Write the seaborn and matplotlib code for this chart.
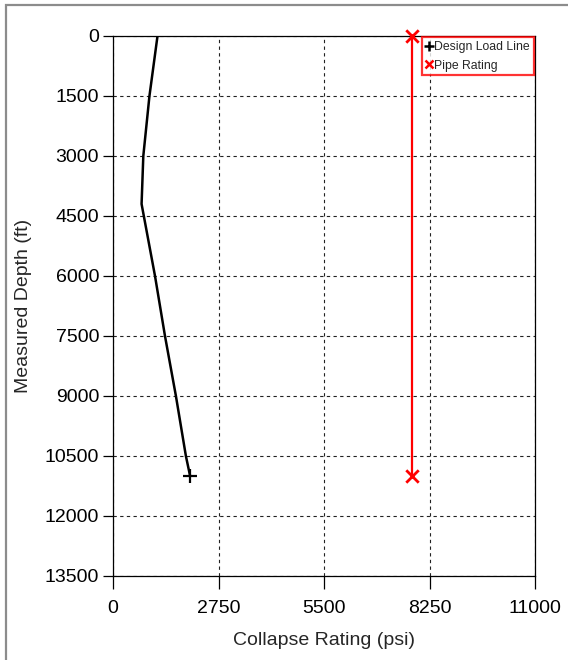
import seaborn as sns
import matplotlib.pyplot as plt
from matplotlib.lines import Line2D
from matplotlib.patches import Rectangle

# design load line (collapse)
load_depth = [0, 1500, 3000, 4200, 6000, 7500, 9000, 10500, 11000]
load_psi = [1160, 950, 790, 745, 1095, 1355, 1640, 1900, 2010]

# pipe rating
rating_depth = [0, 11000]
rating_psi = [7800, 7800]

x_ticks = [0, 2750, 5500, 8250, 11000]
y_ticks = [0, 1500, 3000, 4500, 6000, 7500, 9000, 10500, 12000, 13500]

sns.set_style("white")
plt.rcParams['font.family'] = ['Liberation Sans', 'DejaVu Sans']

fig = plt.figure(figsize=(5.68, 6.6), dpi=100)
ax = fig.add_axes([113 / 568, 1 - 576 / 660, 422 / 568, 540 / 660])

# grey frame round the whole figure (only left/top visible in the reference)
fig.patches.append(Rectangle((6 / 568, -0.1), 1.2, 1.1 - 5 / 660,
                             transform=fig.transFigure, fill=False,
                             edgecolor="#8c8c8c", linewidth=1.6))

# load line
sns.lineplot(x=load_psi, y=load_depth, sort=False, estimator=None,
             color="black", linewidth=1.8, ax=ax)
sns.scatterplot(x=[load_psi[-1]], y=[load_depth[-1]], marker="+", s=110,
                color="black", linewidth=1.6, ax=ax, zorder=5)

# pipe rating
sns.lineplot(x=rating_psi, y=rating_depth, sort=False, estimator=None,
             color="#ff0000", linewidth=1.6, ax=ax)
sns.scatterplot(x=rating_psi, y=rating_depth, marker="x", s=80,
                color="#ff0000", linewidth=2, ax=ax, zorder=5, clip_on=False)

ax.set_xlim(0, 11000)
ax.set_ylim(13500, 0)
ax.set_xticks(x_ticks)
ax.set_yticks(y_ticks)
ax.tick_params(axis="x", direction="out", length=9, width=0.9, labelsize=14,
               pad=8, colors="black", bottom=True)
ax.tick_params(axis="y", direction="out", length=7, width=0.9, labelsize=14,
               pad=3, colors="black", left=True)

ax.grid(True, color="#222222", linestyle=(0, (3, 3)), linewidth=0.8)
for s in ax.spines.values():
    s.set_color("black")
    s.set_linewidth(0.9)

ax.set_xlabel("Collapse Rating (psi)", fontsize=14, labelpad=11)
ax.set_ylabel("Measured Depth (ft)", fontsize=14, labelpad=9)

handles = [Line2D([], [], color="black", marker="+", linestyle="none",
                  markersize=7, markeredgewidth=1.8),
           Line2D([], [], color="#ff0000", marker="x", linestyle="none",
                  markersize=5.5, markeredgewidth=1.8)]
leg = ax.legend(handles, ["Design Load Line", "Pipe Rating"], loc="upper right",
                fontsize=8.8, frameon=True, fancybox=False, borderaxespad=0.1,
                handlelength=0.5, handletextpad=0.2, labelspacing=0.55,
                borderpad=0.3)
leg.get_frame().set_edgecolor("#ff0000")
leg.get_frame().set_linewidth(1.6)

fig.savefig("out.png", dpi=100)
